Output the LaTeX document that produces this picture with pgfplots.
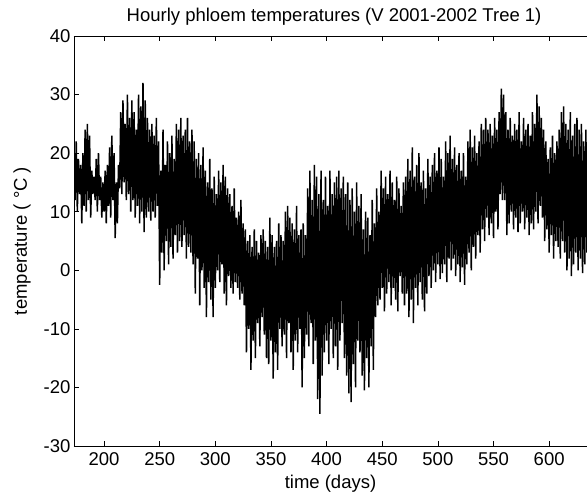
\documentclass[border=0pt]{standalone}
\usepackage{pgfplots}
\pgfplotsset{compat=1.18}
\usepackage{fontspec}
\setmainfont{Liberation Sans}
\begin{document}
\begin{tikzpicture}[font=\fontsize{18.5}{22}\selectfont]
\begin{axis}[
  at={(0,0)}, anchor=south west,
  scale only axis, width=513pt, height=410pt,
  xmin=173, xmax=634, ymin=-30, ymax=40,
  xtick={200,250,...,600}, ytick={-30,-20,...,40},
  axis x line*=box, axis y line*=left,
  axis line style={-, black, line width=0.6pt},
  tick align=inside, major tick length=5pt,
  every tick/.style={black, line width=0.6pt},
  xtick pos=both,
  xticklabel style={yshift=-3pt},
  /pgf/number format/assume math mode=true,
  /pgf/number format/1000 sep={},
  title={Hourly phloem temperatures (V 2001-2002 Tree 1)},
  title style={at={(axis description cs:0.507,1)}, anchor=base, yshift=9pt, inner sep=0pt},
  xlabel={time (days)},
  xlabel style={at={(axis description cs:0.5,0)}, yshift=-38pt, anchor=center, inner sep=0pt},
  ylabel={temperature ( °C )},
  ylabel style={at={(axis description cs:-0.1014,0.5)}, anchor=center, inner sep=0pt},
  clip=true,
]
\addplot[black, line width=1.5pt, mark=none, line join=bevel] coordinates {
(174,12) (175,22) (176,10) (177,19) (178,13) (179,18) (180,8) (181,20) (182,11) (183,24)
(184,10) (185,25) (186,12) (187,23) (188,9) (189,17) (190,13) (191,16) (192,12) (193,19)
(194,10) (195,20) (196,12) (197,16) (198,9) (199,15) (200,10) (201,17) (202,8) (203,18)
(204,11) (205,21) (206,9) (207,23) (208,12) (209,20) (210,5.5) (211,15) (212,8) (213,18)
(214,14) (215,27) (216,13) (217,29) (218,15) (219,25) (220,12) (221,30) (222,13) (223,26)
(224,10) (225,29) (226,12) (227,27) (228,9) (229,24) (230,11) (231,30) (232,8) (233,28)
(234,10) (235,32) (236,6.5) (237,29) (238,9) (239,26) (240,10) (241,24) (242,8.5) (243,25)
(244,10) (245,23) (246,9) (247,26) (248,11) (249,22) (250,-2.5) (251,17) (252,3) (253,24)
(254,0) (255,18) (256,5) (257,22) (258,1) (259,20) (260,4) (261,23) (262,2) (263,19)
(264,6) (265,25) (266,3) (267,24) (268,5) (269,26) (270,4) (271,23) (272,6) (273,24)
(274,2) (275,26) (276,4) (277,22) (278,3) (279,24) (280,1) (281,22) (282,-4) (283,19)
(284,2) (285,20) (286,-6) (287,18) (288,0) (289,21) (290,-3) (291,17) (292,-8) (293,15)
(294,-2) (295,19) (296,-5) (297,14) (298,-8) (299,16) (300,-3) (301,13) (302,0) (303,17)
(304,-2) (305,15) (306,1) (307,18) (308,-4) (309,16) (310,-6) (311,14) (312,-1) (313,13)
(314,-3) (315,11) (316,-4) (317,14) (318,-2) (319,9) (320,-3) (321,10) (322,-5) (323,12)
(324,-4) (325,8) (326,-6) (327,7) (328,-14) (329,5) (330,-10) (331,6) (332,-17) (333,4)
(334,-12) (335,7) (336,-15) (337,5) (338,-9) (339,3) (340,-13) (341,6) (342,-8) (343,7)
(344,-11) (345,5) (346,-15) (347,4) (348,-16) (349,9) (350,-12) (351,6) (352,-18.5) (353,4)
(354,-14) (355,5) (356,-17) (357,8) (358,-10) (359,6) (360,-13) (361,5) (362,-11) (363,10)
(364,-15) (365,11) (366,-9) (367,9) (368,-14) (369,8) (370,-17) (371,7) (372,-12) (373,11)
(374,-14) (375,6) (376,-10) (377,7) (378,-20) (379,8) (380,-15) (381,6) (382,-11) (383,14)
(384,-13) (385,17) (386,-9) (387,12) (388,-16) (389,18) (390,-12) (391,16) (392,-22) (393,13)
(394,-24.5) (395,17) (396,-18) (397,12) (398,-14) (399,16) (400,-12) (401,11) (402,-16) (403,17)
(404,-10) (405,13) (406,-15) (407,15) (408,-13) (409,16) (410,-17) (411,17) (412,-12) (413,14)
(414,-9) (415,16) (416,-15) (417,13) (418,-18) (419,15) (420,-21) (421,12) (422,-22.5) (423,14)
(424,-16) (425,10) (426,-20) (427,15) (428,-12) (429,11) (430,-14) (431,13) (432,-18) (433,7)
(434,-20.5) (435,10) (436,-15) (437,9) (438,-20) (439,6) (440,-13) (441,12) (442,-17) (443,8)
(444,-8) (445,14) (446,-6) (447,10) (448,-5) (449,17) (450,-3) (451,14) (452,-7) (453,16)
(454,-4) (455,13) (456,-2) (457,17) (458,-6) (459,15) (460,-3) (461,12) (462,-5) (463,16)
(464,-7) (465,14) (466,-1) (467,11) (468,-4) (469,15) (470,-6) (471,16) (472,-4) (473,19)
(474,-8) (475,17) (476,-5) (477,21) (478,-9) (479,16) (480,-3) (481,18) (482,-6) (483,20)
(484,-2) (485,15) (486,-5) (487,17) (488,-7) (489,14) (490,-4) (491,19) (492,-1) (493,16)
(494,-3) (495,18) (496,0) (497,20) (498,-2) (499,17) (500,1) (501,21) (502,-1.5) (503,19)
(504,-0.5) (505,16) (506,1) (507,22) (508,-2) (509,20) (510,2) (511,23) (512,0) (513,19)
(514,2) (515,21) (516,-1) (517,18) (518,1) (519,20) (520,-2) (521,17) (522,0.5) (523,20)
(524,-2.5) (525,16) (526,1) (527,22) (528,3) (529,24) (530,0) (531,21) (532,4) (533,23)
(534,2) (535,20) (536,6) (537,22) (538,3) (539,25) (540,7) (541,24) (542,5) (543,26)
(544,9) (545,24) (546,6) (547,25) (548,8) (549,23) (550,5.5) (551,26) (552,10) (553,24)
(554,7) (555,27) (556,13) (557,31) (558,12) (559,30) (560,12) (561,27) (562,6) (563,24)
(564,8) (565,26) (566,10) (567,23) (568,7) (569,25) (570,9) (571,24) (572,6.5) (573,27)
(574,8) (575,22) (576,10) (577,26) (578,7) (579,24) (580,9) (581,25) (582,6) (583,23)
(584,8) (585,27) (586,7) (587,25) (588,10) (589,30) (590,8) (591,28) (592,11) (593,26)
(594,9) (595,24) (596,5) (597,22) (598,7) (599,19) (600,3) (601,21) (602,6) (603,23)
(604,2) (605,20) (606,5) (607,22) (608,4) (609,24) (610,2) (611,27) (612,5) (613,28)
(614,3) (615,25) (616,0) (617,24) (618,2) (619,27) (620,-1) (621,23) (622,1) (623,25)
(624,3) (625,26) (626,0) (627,24) (628,2) (629,25) (630,-0.5) (631,22) (632,1) (633,24)
(634,3) (635,20)
};
\end{axis}
\pgfresetboundingbox
\useasboundingbox (-74pt,-52pt) rectangle (513pt,446pt);
\end{tikzpicture}
\end{document}
